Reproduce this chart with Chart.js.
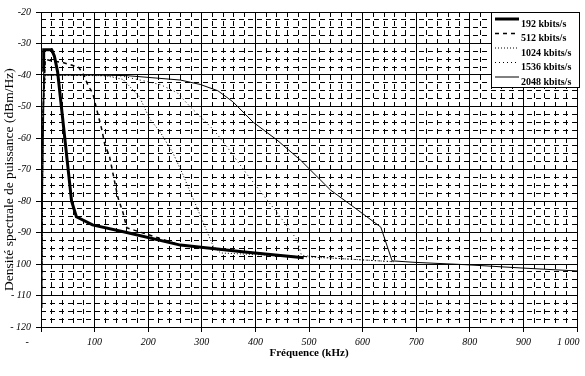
<!DOCTYPE html>
<html>
<head>
<meta charset="utf-8">
<script src="https://cdn.jsdelivr.net/npm/chart.js@4.4.0/dist/chart.umd.min.js"></script>
<style>
  html, body { margin: 0; padding: 0; background: #fff; }
</style>
</head>
<body>
<canvas id="dsp" width="585" height="376"></canvas>
<script>
// Fréquences (kHz) et DSP (dBm/Hz)
const labels192 = "192 kbits/s";
const f192 = [0, 0, 5, 5, 20, 25, 31, 57, 66, 96, 160, 260, 380, 490];
const d192 = [-114, -87, -39, -32, -32, -34, -39, -80, -85, -87.6, -90, -94, -96.2, -98];

const labels512 = "512 kbits/s";
const f512 = [1, 3, 8, 20, 40, 70, 80, 87, 97, 104, 113, 119, 128, 143, 153, 160, 260, 380, 490];
const d512 = [-108, -55, -35, -35.5, -36, -37.5, -40, -43, -46, -51, -57, -62, -66, -78.6, -83.7, -88.5, -94, -96.2, -98];

const labels1024 = "1024 kbits/s";
const f1024 = [1, 4, 8, 120, 153, 184, 203, 222, 246, 265, 321, 335, 400, 490, 560, 660];
const d1024 = [-109, -50, -40, -40.2, -41.4, -47, -54, -58, -64.7, -71.7, -94.2, -96.5, -97, -97.7, -98.3, -99.3];

const labels1536 = "1536 kbits/s";
const f1536 = [2, 4, 8, 150, 222, 254, 278, 322, 347, 385, 441, 478, 486, 560, 660];
const d1536 = [-100, -50, -40, -40.3, -43, -45.6, -50, -57.4, -62.8, -71.7, -83.8, -92.4, -97.3, -98.3, -99.3];

const labels2048 = "2048 kbits/s";
const f2048 = [0, 6, 100, 160, 260, 297, 330, 358, 396, 440, 484, 540, 600, 634, 655, 700, 790, 900, 1000];
const d2048 = [-112, -40, -40, -40.2, -41.6, -43, -45, -48.5, -55, -60.6, -67, -76.5, -84, -88.3, -99, -99.5, -100.2, -101.3, -102.2];

const serif = "Liberation Serif";

function pts(f, d) {
    return f.map((x, i) => ({ x: x, y: d[i] }));
}

// Légende encadrée en haut à droite
const legendBox = {
    id: "legendBox",
    afterDraw(chart) {
        const ctx = chart.ctx;
        ctx.save();
        ctx.fillStyle = "#fff";
        ctx.fillRect(491.5, 12.5, 88, 75);
        ctx.strokeStyle = "#000";
        ctx.lineWidth = 1;
        ctx.strokeRect(491.5, 12.5, 88, 75);
        ctx.font = "bold 10px '" + serif + "'";
        ctx.textBaseline = "middle";
        ctx.fillStyle = "#000";
        chart.data.datasets.forEach((ds, i) => {
            const yl = 19 + i * 14.5;
            ctx.beginPath();
            ctx.lineWidth = ds.borderWidth;
            ctx.setLineDash(ds.borderDash || []);
            ctx.moveTo(495, yl);
            ctx.lineTo(519, yl);
            ctx.stroke();
            ctx.setLineDash([]);
            ctx.fillText(ds.label, 521, yl + 5);
        });
        ctx.restore();
    }
};

const tickFont = { family: serif, size: 10, style: "italic" };

new Chart(document.getElementById("dsp").getContext("2d"), {
    type: "line",
    data: {
        datasets: [
            { label: labels192, data: pts(f192, d192), borderColor: "#000", borderWidth: 3,
              segment: { borderWidth: c => c.p0DataIndex === 1 ? 1 : undefined } },
            { label: labels512, data: pts(f512, d512), borderColor: "#000", borderWidth: 1.5, borderDash: [4, 4] },
            { label: labels1024, data: pts(f1024, d1024), borderColor: "#000", borderWidth: 1, borderDash: [1, 2] },
            { label: labels1536, data: pts(f1536, d1536), borderColor: "#000", borderWidth: 1, borderDash: [1, 3] },
            { label: labels2048, data: pts(f2048, d2048), borderColor: "#000", borderWidth: 1 }
        ]
    },
    options: {
        responsive: false,
        animation: false,
        layout: { padding: { top: 12, right: 8, left: 0, bottom: 0 } },
        elements: { point: { radius: 0 }, line: { tension: 0, fill: false } },
        plugins: { legend: { display: false }, tooltip: { enabled: false } },
        scales: {
            xm: {
                type: "linear", position: "bottom", min: 0, max: 1000, z: -1,
                ticks: { stepSize: 20, display: false, maxTicksLimit: 100, autoSkip: false },
                grid: { color: "#000", lineWidth: 1, drawTicks: false },
                border: { display: false, dash: [5, 4] },
                afterFit(s) { s.height = 0; s.paddingLeft = 0; s.paddingRight = 0; }
            },
            ym: {
                type: "linear", position: "left", min: -120, max: -20, z: -1,
                ticks: { stepSize: 2.5, display: false, maxTicksLimit: 100, autoSkip: false },
                grid: { color: "#000", lineWidth: 1, drawTicks: false },
                border: { display: false, dash: [5, 4] },
                afterFit(s) { s.width = 0; s.paddingTop = 0; s.paddingBottom = 0; }
            },
            x: {
                type: "linear", position: "bottom", min: 0, max: 1000,
                ticks: {
                    stepSize: 100, font: tickFont, color: "#000", padding: 4, maxRotation: 0,
                    callback: v => v === 0 ? "-" + " ".repeat(11) : (v === 1000 ? "1 000" + " ".repeat(7) : String(v))
                },
                grid: { color: "#000", lineWidth: 1, tickLength: 5 },
                border: { color: "#000", width: 1 },
                title: {
                    display: true, text: "Fréquence (kHz)", color: "#000",
                    font: { family: serif, size: 11, weight: "bold" },
                    padding: { top: 0, bottom: 16 }
                },
                afterFit(s) { s.height = 49; s.paddingLeft = 0; s.paddingRight = 0; }
            },
            y: {
                type: "linear", position: "left", min: -120, max: -20,
                ticks: {
                    stepSize: 10, font: tickFont, color: "#000", padding: 5,
                    callback: v => v <= -100 ? "- " + Math.abs(v) : String(v)
                },
                grid: { color: "#000", lineWidth: 1, tickLength: 5 },
                border: { color: "#000", width: 1 },
                title: {
                    display: true, text: "Densité spectrale de puissance (dBm/Hz)      ", color: "#000",
                    font: { family: serif, size: 13.5 },
                    padding: { top: 1, bottom: 0 }
                },
                afterFit(s) { s.width = 41; s.paddingTop = 0; s.paddingBottom = 0; }
            }
        }
    },
    plugins: [legendBox]
});
</script>
</body>
</html>
